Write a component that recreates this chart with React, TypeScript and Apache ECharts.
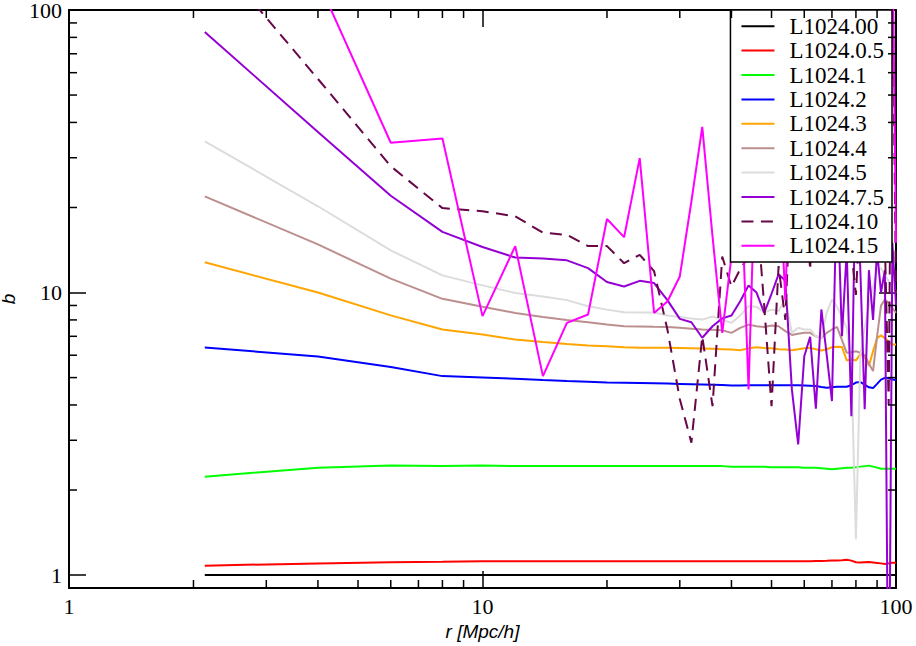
import React, { useEffect, useRef } from 'react';
import * as echarts from 'echarts';

// r values [Mpc/h]
const rValues = [2.13, 4, 6, 8, 10, 12, 14, 16, 18, 20, 22, 24, 26, 28, 30, 32, 34, 36, 38, 40, 42, 44, 46, 48, 50, 52, 54, 56, 58, 60, 62, 64, 66, 68, 70, 72, 74, 76, 78, 80, 82, 84, 86, 88, 90, 92, 94, 96, 98, 100];

const bL00 = [1, 1, 1, 1, 1, 1, 1, 1, 1, 1, 1, 1, 1, 1, 1, 1, 1, 1, 1, 1, 1, 1, 1, 1, 1, 1, 1, 1, 1, 1, 1, 1, 1, 1, 1, 1, 1, 1, 1, 1, 1, 1, 1, 1, 1, 1, 1, 1, 1, 1];
const bL05 = [1.08, 1.1, 1.11, 1.115, 1.12, 1.12, 1.12, 1.12, 1.12, 1.12, 1.12, 1.12, 1.12, 1.12, 1.12, 1.12, 1.12, 1.12, 1.12, 1.12, 1.12, 1.12, 1.12, 1.12, 1.12, 1.12, 1.12, 1.12, 1.12, 1.12, 1.12, 1.122, 1.122, 1.123, 1.125, 1.125, 1.128, 1.133, 1.125, 1.11, 1.108, 1.11, 1.112, 1.108, 1.104, 1.1, 1.095, 1.1, 1.105, 1.105];
const bL1 = [2.23, 2.4, 2.44, 2.43, 2.44, 2.43, 2.43, 2.43, 2.43, 2.43, 2.43, 2.43, 2.43, 2.43, 2.43, 2.43, 2.43, 2.43, 2.43, 2.42, 2.42, 2.42, 2.42, 2.42, 2.41, 2.41, 2.41, 2.41, 2.41, 2.4, 2.4, 2.4, 2.39, 2.38, 2.37, 2.38, 2.39, 2.4, 2.4, 2.41, 2.42, 2.43, 2.44, 2.42, 2.4, 2.38, 2.38, 2.38, 2.38, 2.38];
const bL2 = [6.39, 5.94, 5.45, 5.06, 5.0, 4.95, 4.9, 4.86, 4.83, 4.8, 4.79, 4.78, 4.77, 4.76, 4.75, 4.74, 4.73, 4.72, 4.71, 4.69, 4.69, 4.7, 4.7, 4.7, 4.7, 4.7, 4.7, 4.7, 4.7, 4.69, 4.68, 4.67, 4.63, 4.6, 4.62, 4.64, 4.64, 4.64, 4.7, 4.8, 4.82, 4.72, 4.62, 4.59, 4.75, 4.92, 4.99, 4.98, 4.92, 4.9];
const bL3 = [12.8, 10.0, 8.3, 7.4, 7.1, 6.82, 6.68, 6.58, 6.5, 6.45, 6.4, 6.38, 6.37, 6.37, 6.36, 6.35, 6.34, 6.32, 6.3, 6.28, 6.25, 6.35, 6.4, 6.36, 6.35, 6.3, 6.28, 6.25, 6.3, 6.35, 6.37, 6.3, 6.24, 6.3, 6.4, 6.43, 6.42, 5.75, 5.8, 5.75, 6.05, 5.9, 5.5, 6.2, 6.9, 7.05, 6.9, 6.7, 6.55, 6.55];
const bL4 = [21.9, 14.8, 11.2, 9.5, 8.9, 8.47, 8.2, 8.0, 7.85, 7.7, 7.6, 7.58, 7.56, 7.55, 7.5, 7.45, 7.4, 7.38, 7.35, 7.2, 7.5, 7.7, 7.6, 7.55, 7.65, 7.6, 7.3, 7.08, 7.15, 7.2, 7.2, 7.0, 6.9, 7.2, 7.4, 7.56, 6.8, 6.12, 6.15, 6.2, 6.12, 6.0, 5.6, 5.27, 7.0, 9.0, 9.44, 9.2, 8.8, 8.47];
const bL5 = [34.3, 20.2, 14.1, 11.5, 10.6, 9.97, 9.68, 9.4, 8.94, 8.7, 8.51, 8.5, 8.5, 8.3, 8.2, 8.1, 8.02, 8.23, 8.0, 7.81, 8.3, 8.94, 8.9, 8.5, 8.7, 8.6, 9.5, 7.2, 7.5, 7.4, 7.4, 7.0, 6.9, 8.5, 9.44, 8.9, 8.23, 7.5, 5.5, 1.34, 6.0, 7.5, 9.0, 10.5, 12.0, 12.2, 11.5, 11.0, 10.5, 9.97];
const bL75 = [83.6, 37, 22.0, 16.4, 14.5, 13.3, 13.2, 13.0, 12.2, 10.9, 10.5, 11.0, 10.8, 9.4, 8.07, 7.85, 6.92, 7.6, 8.1, 8.29, 9.31, 10.6, 10.0, 8.47, 9.9, 11.6, 11.0, 4.54, 2.9, 5.95, 6.97, 3.88, 8.71, 6.0, 4.13, 25, 7, 14, 3.65, 30, 12, 3.86, 12, 8, 14, 10, 12, 0.2, 15, 9];
const bL10 = [170, 57, 28, 19.9, 19.4, 18.6, 16.3, 16.0, 14.6, 14.6, 12.7, 13.6, 11.9, 7.4, 4.2, 2.94, 7.0, 3.96, 13.4, 10.5, 12.1, 13.4, 20, 9, 3.96, 12.4, 8, 30, 15, 25, 12, 40, 18, 30, 14, 22, 30, 16, 14, 9.8, 20, 30, 18, 40, 20, 30, 15, 4.0, 150, 10];
const bL15 = [250, 127, 33.9, 35.1, 8.25, 14.6, 5.06, 7.81, 8.36, 18.2, 15.7, 29.9, 8.47, 9.3, 11.4, 21, 38.6, 15.8, 7.2, 13.4, 30, 4.54, 40, 25, 60, 30, 9.4, 50, 30, 80, 40, 25, 60, 35, 50, 30, 70, 40, 25, 60, 30, 45, 25, 70, 35, 50, 30, 80, 200, 15];

const seriesNames = ['L1024.00', 'L1024.0.5', 'L1024.1', 'L1024.2', 'L1024.3', 'L1024.4', 'L1024.5', 'L1024.7.5', 'L1024.10', 'L1024.15'];
const seriesColors = ['#000000', '#ff0000', '#00ff00', '#0000ff', '#ffa500', '#bc8f8f', '#dcdcdc', '#9400d3', '#670748', '#ff00ff'];
const seriesValues = [bL00, bL05, bL1, bL2, bL3, bL4, bL5, bL75, bL10, bL15];
const dashedIndex = 8;
const dashPattern = [12, 7.5];

const xRange = [1, 100];
const yRange = [0.9, 100];
const minorTicks = [2, 3, 4, 5, 6, 7, 8, 9, 20, 30, 40, 50, 60, 70, 80, 90];

const serif = 'Liberation Serif';
const sans = 'Liberation Sans';

function decadeLabel(v: number): string {
  const lg = Math.log10(v);
  return Math.abs(lg - Math.round(lg)) < 1e-6 ? String(Math.round(v)) : '';
}

export default function App() {
  const ref = useRef<HTMLDivElement>(null);

  useEffect(() => {
    if (!ref.current) return;
    const chart = echarts.init(ref.current, null, { renderer: 'svg' });

    const tickStyle = { color: '#000', width: 1.5 };
    const lineAxis = { show: true, onZero: false, lineStyle: { color: '#000', width: 2 } };

    const lineSeries = seriesValues.map((vals, i) => ({
      name: seriesNames[i],
      type: 'line',
      symbol: 'none',
      clip: true,
      z: 2,
      data: rValues.map((r, j) => [r, vals[j]]),
      lineStyle: { color: seriesColors[i], width: 2, type: i === dashedIndex ? dashPattern : 'solid' },
      itemStyle: { color: seriesColors[i] },
    }));

    const tickLine = (x1: number, y1: number, x2: number, y2: number) => ({
      type: 'line',
      shape: { x1, y1, x2, y2 },
      style: { stroke: '#000', lineWidth: 1.5 },
    });

    const minorX = {
      type: 'custom',
      silent: true,
      z: 10,
      clip: false,
      data: minorTicks.map((v) => [v, 1]),
      encode: { x: 0, y: 1 },
      renderItem: (params: any, api: any) => {
        const cs = params.coordSys;
        const px = api.coord([api.value(0), 1])[0];
        return {
          type: 'group',
          children: [
            tickLine(px, cs.y + cs.height, px, cs.y + cs.height - 8),
            tickLine(px, cs.y, px, cs.y + 8),
          ],
        };
      },
    };
    const minorY = {
      type: 'custom',
      silent: true,
      z: 10,
      clip: false,
      data: minorTicks.map((v) => [1, v]),
      encode: { x: 0, y: 1 },
      renderItem: (params: any, api: any) => {
        const cs = params.coordSys;
        const py = api.coord([1, api.value(1)])[1];
        return {
          type: 'group',
          children: [
            tickLine(cs.x, py, cs.x + 8, py),
            tickLine(cs.x + cs.width, py, cs.x + cs.width - 8, py),
          ],
        };
      },
    };

    const option: any = {
      animation: false,
      backgroundColor: '#fff',
      grid: { left: 69, top: 10, right: 20, bottom: 58, containLabel: false, outerBoundsMode: 'none' },
      legend: {
        orient: 'vertical',
        right: 24,
        top: 10,
        padding: [4, 8, 4, 10],
        itemWidth: 33,
        itemHeight: 14,
        itemGap: 0,
        backgroundColor: '#fff',
        borderColor: '#000',
        borderWidth: 1.5,
        borderRadius: 0,
        z: 4,
        itemStyle: { opacity: 0 },
        data: seriesNames.map((n, i) => ({
          name: n,
          itemStyle: { opacity: 0 },
          lineStyle: { color: seriesColors[i], width: 2, type: i === dashedIndex ? dashPattern : 'solid' },
        })),
        textStyle: { fontFamily: serif, fontSize: 23, color: '#000', lineHeight: 24.4, padding: [0, 0, 0, 10] },
      },
      xAxis: [
        {
          type: 'log', logBase: 10, min: xRange[0], max: xRange[1], position: 'bottom',
          axisLine: lineAxis,
          axisTick: { show: true, inside: true, length: 17, lineStyle: tickStyle },
          axisLabel: { show: true, color: '#000', fontFamily: serif, fontSize: 22, lineHeight: 18, margin: 9, formatter: decadeLabel },
          splitLine: { show: false },
          name: 'r [Mpc/h]', nameLocation: 'middle', nameGap: 34,
          nameTextStyle: { fontFamily: sans, fontStyle: 'italic', fontSize: 19, color: '#000' },
        },
        {
          type: 'log', logBase: 10, min: xRange[0], max: xRange[1], position: 'top',
          axisLine: lineAxis,
          axisTick: { show: true, inside: true, length: 17, lineStyle: tickStyle },
          axisLabel: { show: false },
          splitLine: { show: false },
        },
      ],
      yAxis: [
        {
          type: 'log', logBase: 10, min: yRange[0], max: yRange[1], position: 'left',
          axisLine: lineAxis,
          axisTick: { show: true, inside: true, length: 17, lineStyle: tickStyle },
          axisLabel: { show: true, color: '#000', fontFamily: serif, fontSize: 22, lineHeight: 16, padding: [3, 0, 0, 0], margin: 7, formatter: decadeLabel },
          splitLine: { show: false },
          name: 'b', nameLocation: 'middle', nameGap: 48, nameRotate: 90,
          nameTextStyle: { fontFamily: sans, fontStyle: 'italic', fontSize: 19, lineHeight: 15, color: '#000' },
        },
        {
          type: 'log', logBase: 10, min: yRange[0], max: yRange[1], position: 'right',
          axisLine: lineAxis,
          axisTick: { show: true, inside: true, length: 17, lineStyle: tickStyle },
          axisLabel: { show: false },
          splitLine: { show: false },
        },
      ],
      series: [...lineSeries, minorX, minorY],
    };

    chart.setOption(option);
    return () => chart.dispose();
  }, []);

  return <div ref={ref} style={{ position: 'fixed', left: 0, top: 0, width: 916, height: 646 }} />;
}
